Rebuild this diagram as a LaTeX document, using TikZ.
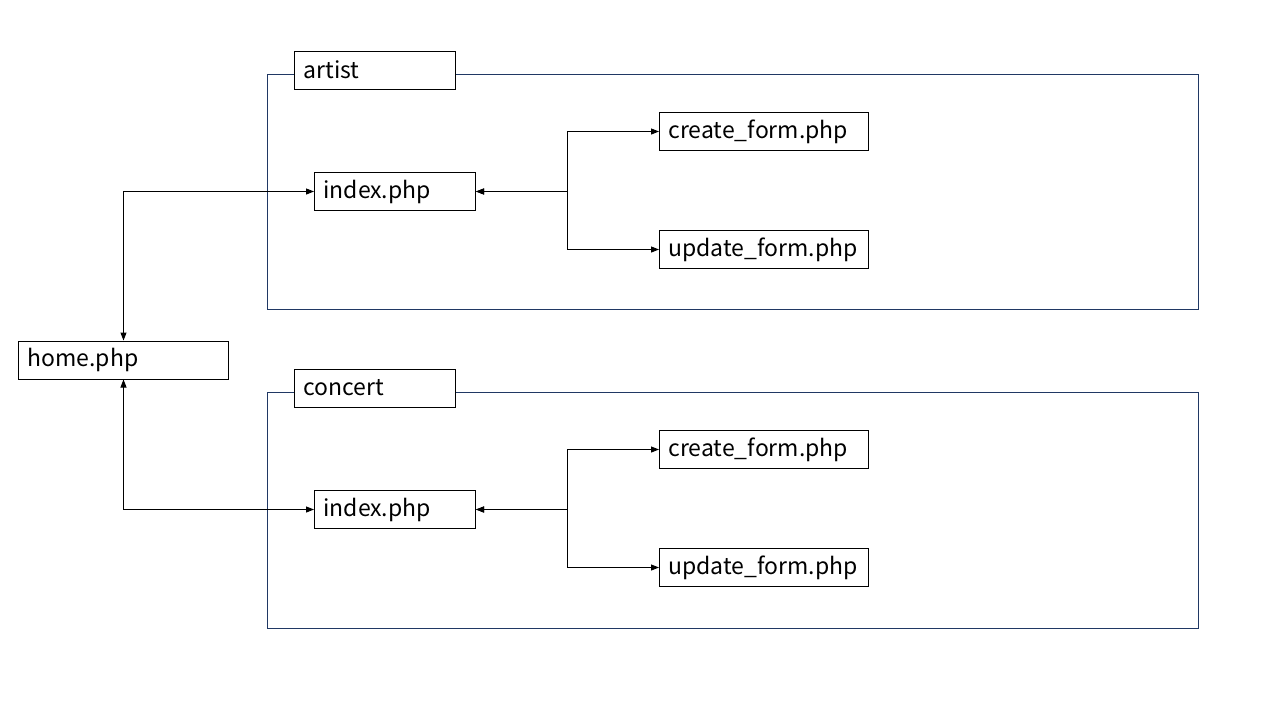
\documentclass[tikz,border=0pt]{standalone}
\usepackage{fontspec}
\setmainfont{Noto Sans CJK JP}
\usetikzlibrary{arrows.meta}
\definecolor{frameblue}{HTML}{203864}
\tikzset{
  frame/.style={draw=frameblue, line width=1pt},
  pbox/.style={draw=black, fill=white, line width=1pt, minimum height=38pt, anchor=west, text width=#1, inner xsep=9pt, align=left, font=\fontsize{23}{26}\selectfont},
  conn/.style={draw=black, line width=1pt, {Triangle[length=8pt,width=6pt]}-{Triangle[length=8pt,width=6pt]}},
}
\begin{document}
\begin{tikzpicture}[x=1pt,y=-1pt]
\useasboundingbox (0,0) rectangle (1280,720);
% frames
\draw[frame] (267,74) rectangle (1198,309);
\draw[frame] (267,392) rectangle (1198,628);
% labels
\node[pbox=143pt] (artist) at (294,70) {artist};
\node[pbox=143pt] (concert) at (294,388) {concert};
% nodes
\node[pbox=192pt] (home) at (18,360) {home.php};
\node[pbox=143pt] (idx1) at (314,191.5) {index.php};
\node[pbox=191pt] (cr1) at (659,131.5) {create\_form.php};
\node[pbox=191pt] (up1) at (659,249.5) {update\_form.php};
\node[pbox=143pt] (idx2) at (314,509.5) {index.php};
\node[pbox=191pt] (cr2) at (659,449.5) {create\_form.php};
\node[pbox=191pt] (up2) at (659,567.5) {update\_form.php};
% connectors
\draw[conn] (home.north) |- (idx1.west);
\draw[conn] (home.south) |- (idx2.west);
\draw[conn] (idx1.east) -- (567,191.5) |- (cr1.west);
\draw[conn] (idx1.east) -- (567,191.5) |- (up1.west);
\draw[conn] (idx2.east) -- (567,509.5) |- (cr2.west);
\draw[conn] (idx2.east) -- (567,509.5) |- (up2.west);
\end{tikzpicture}
\end{document}
